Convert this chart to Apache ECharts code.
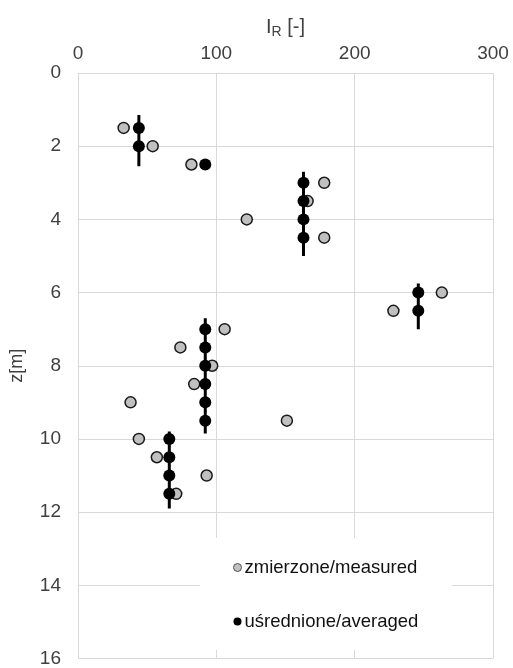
<!DOCTYPE html>
<html>
<head>
<meta charset="utf-8">
<script src="https://cdn.jsdelivr.net/npm/echarts@6/dist/echarts.min.js"></script>
<style>html,body{margin:0;padding:0;background:#fff}#c{width:513px;height:668px}</style>
</head>
<body>
<div id="c"></div>
<script>
// measured (gray) points
var measuredX = [33, 54, 82, 178, 166, 122, 178, 263, 228, 106, 74, 97, 84, 38, 151, 44, 57, 93, 71];
var measuredZ = [1.5, 2, 2.5, 3, 3.5, 4, 4.5, 6, 6.5, 7, 7.5, 8, 8.5, 9, 9.5, 10, 10.5, 11, 11.5];
// averaged (black) points
var averagedX = [44, 44, 92, 163, 163, 163, 163, 246, 246, 92, 92, 92, 92, 92, 92, 66, 66, 66, 66];
var averagedZ = [1.5, 2, 2.5, 3, 3.5, 4, 4.5, 6, 6.5, 7, 7.5, 8, 8.5, 9, 9.5, 10, 10.5, 11, 11.5];
// averaged layer ranges (vertical bars)
var layerX = [44, 163, 246, 92, 66];
var layerTop = [1.15, 2.7, 5.75, 6.7, 9.8];
var layerBottom = [2.55, 5.0, 7.0, 9.85, 11.9];
var xTicks = [0, 100, 200, 300];
var zTicks = [0, 2, 4, 6, 8, 10, 12, 14, 16];

var font = 'Liberation Sans, Arial, sans-serif';
var txt = '#404040';
var grid = '#d9d9d9';

function pairs(xs, ys) { return xs.map(function (x, i) { return [x, ys[i]]; }); }

var series = [{
  name: 'zmierzone/measured', type: 'scatter', symbol: 'circle', symbolSize: 11,
  itemStyle: { color: '#c0c0c0', borderColor: '#1a1a1a', borderWidth: 1.5, opacity: 1 },
  data: pairs(measuredX, measuredZ), z: 2
}];
layerX.forEach(function (x, i) {
  series.push({
    name: 'layer' + i, type: 'line', symbol: 'none', silent: true,
    lineStyle: { color: '#000', width: 3 },
    data: [[x, layerTop[i]], [x, layerBottom[i]]], z: 3
  });
});
series.push({
  name: 'uśrednione/averaged', type: 'scatter', symbol: 'circle', symbolSize: 12,
  itemStyle: { color: '#000', opacity: 1 },
  data: pairs(averagedX, averagedZ), z: 4
});

var chart = echarts.init(document.getElementById('c'), null, { renderer: 'canvas' });
chart.setOption({
  animation: false,
  textStyle: { fontFamily: font },
  grid: { left: 75, right: 20, top: 73, bottom: 8, containLabel: false },
  xAxis: {
    type: 'value', position: 'top', min: xTicks[0], max: xTicks[xTicks.length - 1], interval: 100,
    name: '{n|I}{sub|R}{n| [-]}', nameLocation: 'middle', nameGap: 34,
    nameTextStyle: { color: txt, fontSize: 20, fontFamily: font,
      rich: {
        n: { fontSize: 20, color: txt, fontFamily: font },
        sub: { fontSize: 14, color: txt, fontFamily: font, verticalAlign: 'bottom', padding: [10, 0, 0, 0] }
      } },
    axisLine: { show: true, lineStyle: { color: grid, width: 1 } },
    axisTick: { show: false },
    axisLabel: { color: txt, fontSize: 19, fontFamily: font, margin: 10 },
    splitLine: { show: true, lineStyle: { color: grid, width: 1 } }
  },
  yAxis: {
    type: 'value', inverse: true, min: zTicks[0], max: zTicks[zTicks.length - 1], interval: 2,
    name: 'z[m]', nameLocation: 'middle', nameGap: 52, nameRotate: 90,
    nameTextStyle: { color: txt, fontSize: 18, fontFamily: font },
    axisLine: { show: true, lineStyle: { color: grid, width: 1 } },
    axisTick: { show: false },
    axisLabel: { color: txt, fontSize: 19, fontFamily: font, margin: 17 },
    splitLine: { show: true, lineStyle: { color: grid, width: 1 } }
  },
  legend: {
    data: [
      { name: 'zmierzone/measured', icon: 'circle', itemStyle: { color: '#c0c0c0', borderColor: '#555', borderWidth: 1 } },
      { name: 'uśrednione/averaged', icon: 'circle', itemStyle: { color: '#000' } }
    ],
    orient: 'vertical', left: 200, top: 538,
    padding: [20, 34, 19, 33],
    backgroundColor: '#fff',
    itemWidth: 8, itemHeight: 8, itemGap: 35,
    textStyle: { color: '#111', fontSize: 18.5, fontFamily: font, padding: [0, 0, 0, -2] }
  },
  series: series
});
</script>
</body>
</html>
